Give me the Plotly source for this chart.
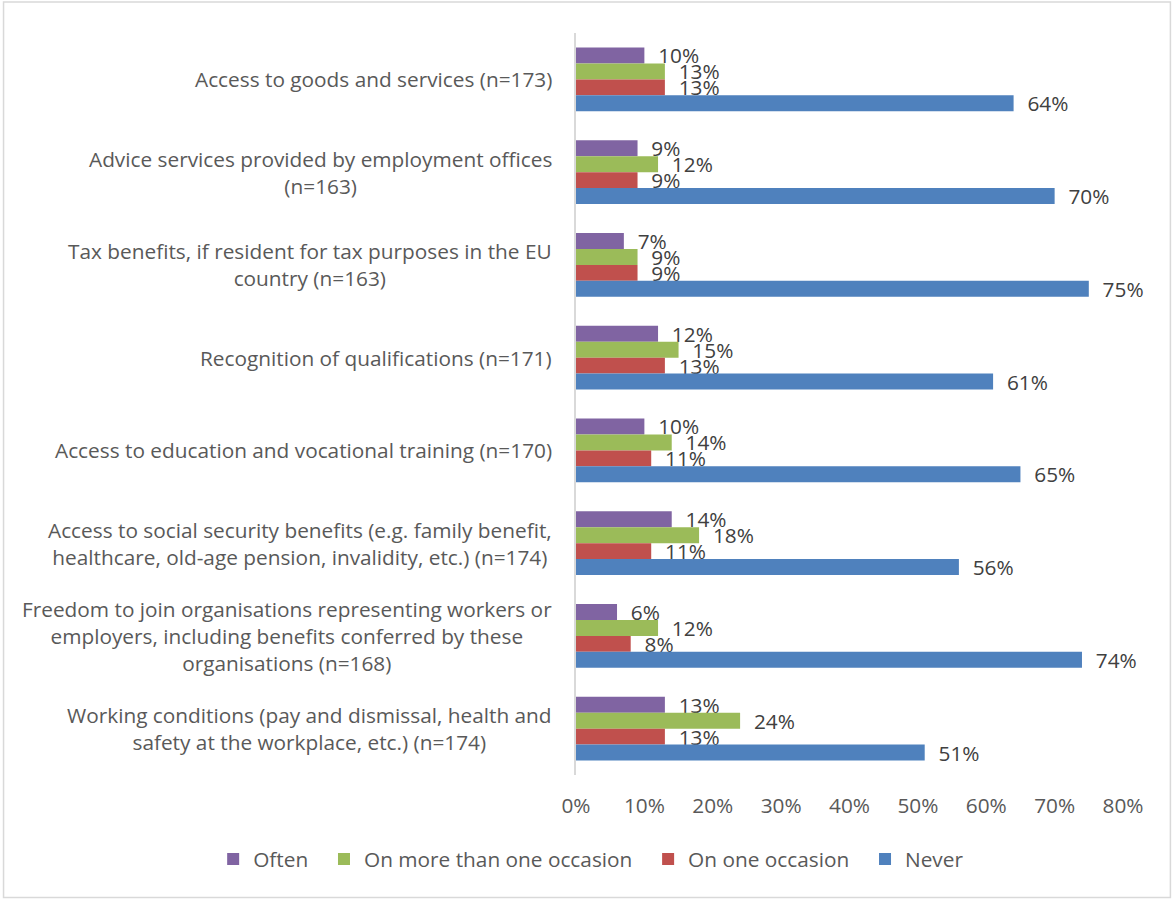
import plotly.graph_objects as go

# Survey categories, top to bottom
categories = [
    "Access to goods and services (n=173)",
    "Advice services provided by employment offices<br>(n=163)",
    "Tax benefits, if resident for tax purposes in the EU<br>country (n=163)",
    "Recognition of qualifications (n=171)",
    "Access to education and vocational training (n=170)",
    "Access to social security benefits (e.g. family benefit,<br>healthcare, old-age pension, invalidity, etc.) (n=174)",
    "Freedom to join organisations representing workers or<br>employers, including benefits conferred by these<br>organisations (n=168)",
    "Working conditions (pay and dismissal, health and<br>safety at the workplace, etc.) (n=174)",
]

often = [10, 9, 7, 12, 10, 14, 6, 13]
more_than_once = [13, 12, 9, 15, 14, 18, 12, 24]
once = [13, 9, 9, 13, 11, 11, 8, 13]
never = [64, 70, 75, 61, 65, 56, 74, 51]

series = [
    ("Often", often, "#8064A2"),
    ("On more than one occasion", more_than_once, "#9BBB59"),
    ("On one occasion", once, "#C0504D"),
    ("Never", never, "#4F81BD"),
]

FONT = "Open Sans"
FS = 20.8
DARK = "#404040"
GREY = "#595959"

# plot-area geometry in pixels
W, H = 1173, 900
L, R, T, B = 575.5, 49.5, 33, 124.5
PW, PH = W - L - R, H - T - B

fig = go.Figure()
for name, vals, color in series:
    fig.add_trace(go.Bar(
        name=name + "\u00a0\u00a0",  # a little extra room between legend entries
        y=categories,
        x=vals,
        orientation="h",
        marker=dict(color=color, line=dict(width=0)),
        text=[f"\u00a0\u00a0{v}%" for v in vals],
        textposition="outside",
        constraintext="none",
        cliponaxis=False,
        textfont=dict(family=FONT, size=FS, color=DARK),
    ))

# Category labels: right-anchored blocks with centred lines
for i, cat in enumerate(categories):
    fig.add_annotation(
        x=0, xref="paper", xanchor="right", xshift=-22,
        y=i, yref="y", yanchor="middle",
        text=cat, showarrow=False, align="center",
        font=dict(family=FONT, size=FS, color=GREY),
    )

fig.update_layout(
    width=W, height=H,
    margin=dict(l=L, r=R, t=T, b=B, autoexpand=False),
    paper_bgcolor="white", plot_bgcolor="white",
    barmode="group", bargap=0.31, bargroupgap=0,
    font=dict(family=FONT, size=FS, color=GREY),
    showlegend=True,
    legend=dict(
        orientation="h", x=(212 - L) / PW, xanchor="left",
        y=(H - B - 860) / PH, yanchor="middle",
        font=dict(family=FONT, size=FS, color=GREY),
        traceorder="normal",
    ),
    xaxis=dict(
        range=[0, 80], dtick=10, ticksuffix="%",
        showgrid=False, zeroline=False, showline=False,
        ticks="outside", ticklen=12, tickcolor="rgba(0,0,0,0)",
        tickfont=dict(family=FONT, size=FS, color=GREY),
        fixedrange=True,
    ),
    yaxis=dict(
        type="category", range=[7.5, -0.5], showticklabels=False, ticks="",
        showgrid=False, zeroline=False,
        showline=True, linecolor="#D9D9D9", linewidth=2,
        fixedrange=True,
    ),
    shapes=[dict(
        type="rect", xref="paper", yref="paper",
        x0=(2 - L) / PW, x1=(1171 - L) / PW,
        y0=(H - B - 898) / PH, y1=(H - B - 2) / PH,
        line=dict(color="#D9D9D9", width=1.5), fillcolor="rgba(0,0,0,0)",
        layer="below",
    )],
)

fig.write_html("out.html")
